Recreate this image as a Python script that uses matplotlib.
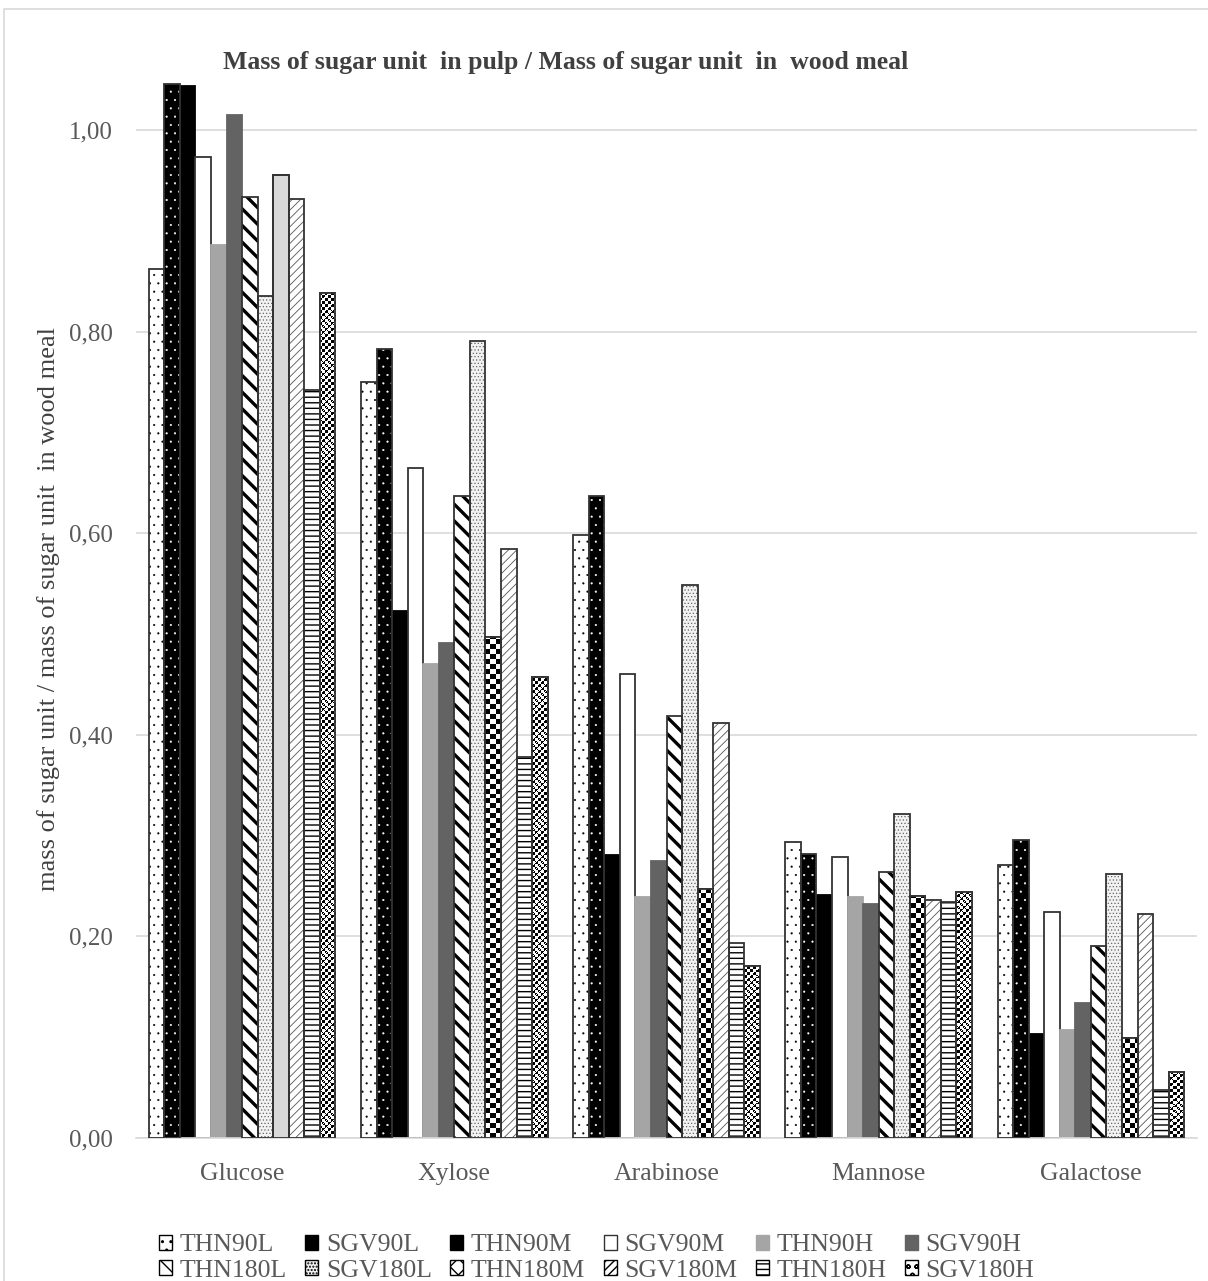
import numpy as np
import matplotlib
matplotlib.use("Agg")
import matplotlib.pyplot as plt
from matplotlib.patches import Patch, Rectangle

plt.rcParams['font.family'] = ['Liberation Serif', 'DejaVu Serif']

sugars = ['Glucose', 'Xylose', 'Arabinose', 'Mannose', 'Galactose']
series = ['THN90L', 'SGV90L', 'THN90M', 'SGV90M', 'THN90H', 'SGV90H',
          'THN180L', 'SGV180L', 'THN180M', 'SGV180M', 'THN180H', 'SGV180H']

THN90L  = [0.862, 0.750, 0.598, 0.294, 0.271]
SGV90L  = [1.046, 0.783, 0.637, 0.282, 0.296]
THN90M  = [1.044, 0.523, 0.281, 0.241, 0.103]
SGV90M  = [0.973, 0.665, 0.460, 0.279, 0.224]
THN90H  = [0.886, 0.470, 0.239, 0.239, 0.107]
SGV90H  = [1.015, 0.491, 0.275, 0.232, 0.134]
THN180L = [0.934, 0.637, 0.419, 0.264, 0.190]
SGV180L = [0.835, 0.791, 0.549, 0.321, 0.262]
THN180M = [0.955, 0.497, 0.247, 0.240, 0.099]
SGV180M = [0.932, 0.584, 0.412, 0.236, 0.222]
THN180H = [0.742, 0.378, 0.193, 0.234, 0.048]
SGV180H = [0.838, 0.457, 0.171, 0.244, 0.065]

values = [THN90L, SGV90L, THN90M, SGV90M, THN90H, SGV90H,
          THN180L, SGV180L, THN180M, SGV180M, THN180H, SGV180H]

edge = '#333333'
# face, hatch colour, hatch, outline, hatch linewidth, texture
styles = {
    'THN90L':  dict(fc='white', hc='black', hatch='..', ec=edge, hlw=0.3),
    'SGV90L':  dict(fc='black', hc='white', hatch='..', ec=edge, hlw=0.3),
    'THN90M':  dict(fc='black', hc=None, hatch=None, ec='black', hlw=1.0),
    'SGV90M':  dict(fc='white', hc=None, hatch=None, ec=edge, hlw=1.0),
    'THN90H':  dict(fc='#a5a5a5', hc=None, hatch=None, ec='#a5a5a5', hlw=1.0),
    'SGV90H':  dict(fc='#636363', hc=None, hatch=None, ec='#636363', hlw=1.0),
    'THN180L': dict(fc='white', hc='black', hatch='\\\\', ec=edge, hlw=2.4),
    'SGV180L': dict(fc='#f2f2f2', hc='#666666', hatch='.....', ec=edge, hlw=0.5),
    'THN180M': dict(fc='white', hc=None, hatch=None, ec=edge, hlw=1.0, tex='checker'),
    'SGV180M': dict(fc='white', hc='#555555', hatch='////', ec=edge, hlw=0.6),
    'THN180H': dict(fc='white', hc='black', hatch='---', ec=edge, hlw=1.0),
    'SGV180H': dict(fc='white', hc=None, hatch=None, ec=edge, hlw=1.0, tex='confetti'),
}

fig = plt.figure(figsize=(12.08, 12.81), dpi=100)
ax = fig.add_axes([136 / 1208, 143 / 1281, 1061 / 1208, 1058.4 / 1281])

ymax = 1.05
ax.set_xlim(-0.5, len(sugars) - 0.5)
ax.set_ylim(0, ymax)

# textures drawn as clipped images
H, W = 1060, 1062
yy, xx = np.mgrid[0:H, 0:W]
checker = (((xx // 5) + (yy // 5)) % 2).astype(float)
conf = ((((xx // 3) + (yy // 3)) % 2) == 0) & (((xx + yy) % 7) != 0)
confetti = (~conf).astype(float)
textures = {'checker': checker, 'confetti': confetti}

x = np.arange(len(sugars))
w = 0.0733
n = len(series)


def set_hlw(p, lw):
    if hasattr(p, 'set_hatch_linewidth'):
        p.set_hatch_linewidth(lw)


for i, (name, vals) in enumerate(zip(series, values)):
    st = styles[name]
    pos = x + (i - (n - 1) / 2) * w
    if st['hatch']:
        with plt.rc_context({'hatch.linewidth': st['hlw']}):
            bars = ax.bar(pos, vals, w, color=st['fc'], edgecolor=st['hc'],
                          hatch=st['hatch'], linewidth=0, zorder=2)
        for b in bars:
            set_hlw(b, st['hlw'])
        ax.bar(pos, vals, w, fill=False, edgecolor=st['ec'], linewidth=1.3, zorder=3)
    else:
        bars = ax.bar(pos, vals, w, color=st['fc'], edgecolor=st['ec'],
                      linewidth=1.3, zorder=2)
    if st.get('tex'):
        for j, b in enumerate(bars):
            if name == 'THN180M' and sugars[j] == 'Glucose':
                b.set_facecolor('#d9d9d9')
                continue
            im = ax.imshow(textures[st['tex']], cmap='gray', vmin=0, vmax=1,
                           extent=[-0.5, len(sugars) - 0.5, 0, ymax],
                           aspect='auto', interpolation='nearest', zorder=2.5)
            im.set_clip_path(b)
        ax.bar(pos, vals, w, fill=False, edgecolor=st['ec'], linewidth=1.3, zorder=3)

ax.set_xlim(-0.5, len(sugars) - 0.5)
ax.set_ylim(0, ymax)

ticks = np.arange(0, 1.01, 0.2)
ax.set_yticks(ticks)
ax.set_yticklabels([('%.2f' % t).replace('.', ',') for t in ticks])
ax.set_xticks(x)
ax.set_xticklabels(sugars)
ax.tick_params(axis='both', length=0, labelsize=18, labelcolor='#595959')
ax.tick_params(axis='x', labelsize=18.5)
ax.tick_params(axis='y', pad=17)
ax.tick_params(axis='x', pad=18)
ax.yaxis.grid(True, color='#d9d9d9', linewidth=1.2, zorder=0)
ax.set_axisbelow(True)
for s in ['top', 'right', 'left']:
    ax.spines[s].set_visible(False)
ax.spines['bottom'].set_color('#d9d9d9')
ax.spines['bottom'].set_linewidth(1.2)

ax.set_ylabel('mass of sugar unit / mass of sugar unit  in wood meal',
              fontsize=19, color='#404040')
ax.yaxis.set_label_coords(-76 / 1061, 0.5)

fig.text(566 / 1208, 1 - 63 / 1281,
         'Mass of sugar unit  in pulp / Mass of sugar unit  in  wood meal',
         ha='center', va='center', fontsize=18.5, fontweight='bold', color='#404040')

# chart border
fig.add_artist(Rectangle((4 / 1208, -0.1), 1.2, 1 - 9 / 1281 + 0.1,
                         transform=fig.transFigure, fill=False,
                         edgecolor='#d9d9d9', linewidth=1.2))

# legend
handles = []
for name in series:
    st = styles[name]
    if name == 'THN180M':
        h = Patch(facecolor='white', edgecolor='black', hatch='xx', linewidth=1)
    elif name == 'SGV180H':
        h = Patch(facecolor='white', edgecolor='black', hatch='oo', linewidth=1)
    elif name == 'SGV90L':
        h = Patch(facecolor='black', edgecolor='black', linewidth=1)
    elif st['hatch']:
        h = Patch(facecolor=st['fc'], edgecolor='black', hatch=st['hatch'], linewidth=1)
    else:
        h = Patch(facecolor=st['fc'], edgecolor=st['ec'], linewidth=1)
    handles.append(h)

order = []
for c in range(6):
    order += [c, c + 6]
fig.legend([handles[k] for k in order], [series[k] for k in order],
           ncol=6, loc='center left', bbox_to_anchor=(159 / 1208, 1 - 1258 / 1281),
           frameon=False, fontsize=18.5, handlelength=0.5, handleheight=0.5,
           handletextpad=0.3, columnspacing=0.72, labelspacing=0.12,
           labelcolor='#595959', borderpad=0, borderaxespad=0)

fig.savefig('out.png', dpi=100)
